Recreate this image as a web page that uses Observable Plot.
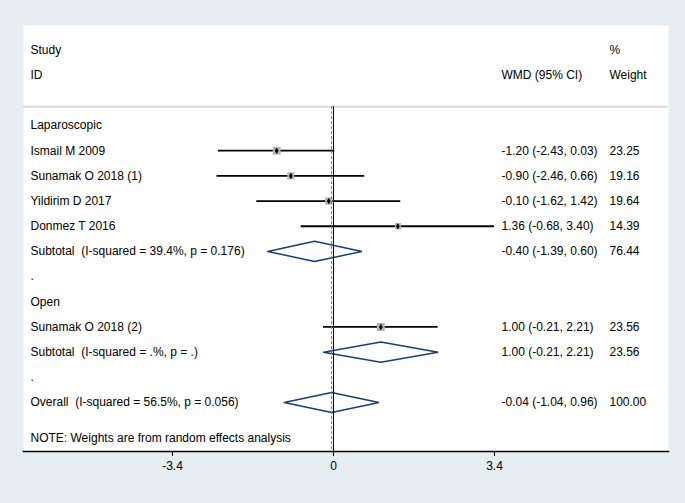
<!DOCTYPE html>
<html>
<head>
<meta charset="utf-8">
<script src="https://cdn.jsdelivr.net/npm/d3@7"></script>
<script src="https://cdn.jsdelivr.net/npm/@observablehq/plot@0.6"></script>
<style>
  html, body { margin: 0; padding: 0; background: #e5edf0; }
  svg text { white-space: pre; }
</style>
</head>
<body>
<div id="chart"></div>
<script>
// ---- data ----
const groups = ["Laparoscopic", "Open"];
const studies = ["Ismail M 2009", "Sunamak O 2018 (1)", "Yildirim D 2017", "Donmez T 2016", "Sunamak O 2018 (2)"];
const studyGroup = [0, 0, 0, 0, 1];
const studyEst = [-1.20, -0.90, -0.10, 1.36, 1.00];
const studyLo = [-2.43, -2.46, -1.62, -0.68, -0.21];
const studyHi = [0.03, 0.66, 1.42, 3.40, 2.21];
const studyWeight = [23.25, 19.16, 19.64, 14.39, 23.56];

const pooledLabels = ["Subtotal  (I-squared = 39.4%, p = 0.176)", "Subtotal  (I-squared = .%, p = .)", "Overall  (I-squared = 56.5%, p = 0.056)"];
const pooledEst = [-0.40, 1.00, -0.04];
const pooledLo = [-1.39, -0.21, -1.04];
const pooledHi = [0.60, 2.21, 0.96];
const pooledWeight = [76.44, 23.56, 100.00];

const headerTop = ["Study", "%"];
const headerBottom = ["ID", "WMD (95% CI)", "Weight"];
const noteText = "NOTE: Weights are from random effects analysis";
const xTicks = [-3.4, 0, 3.4];

// ---- layout (row order) ----
const f2 = v => v.toFixed(2);
const studyRows = [], pooledRows = [], labelRows = [];
let r = 0;
groups.forEach((g, gi) => {
  labelRows.push({row: r++, label: g});
  studies.forEach((s, i) => {
    if (studyGroup[i] === gi) {
      studyRows.push({row: r, label: s, est: studyEst[i], lo: studyLo[i], hi: studyHi[i], w: studyWeight[i]});
      labelRows.push({row: r++, label: s, ci: `${f2(studyEst[i])} (${f2(studyLo[i])}, ${f2(studyHi[i])})`, wt: f2(studyWeight[i])});
    }
  });
  pooledRows.push({row: r, est: pooledEst[gi], lo: pooledLo[gi], hi: pooledHi[gi]});
  labelRows.push({row: r++, label: pooledLabels[gi], ci: `${f2(pooledEst[gi])} (${f2(pooledLo[gi])}, ${f2(pooledHi[gi])})`, wt: f2(pooledWeight[gi])});
  labelRows.push({row: r++, label: "."});
});
pooledRows.push({row: r, est: pooledEst[2], lo: pooledLo[2], hi: pooledHi[2]});
labelRows.push({row: r++, label: pooledLabels[2], ci: `${f2(pooledEst[2])} (${f2(pooledLo[2])}, ${f2(pooledHi[2])})`, wt: f2(pooledWeight[2])});

const H = 0.4; // diamond half-height in rows
const diamondPts = pooledRows.flatMap((d, k) => [
  {k, x: d.lo, y: d.row}, {k, x: d.est, y: d.row - H}, {k, x: d.hi, y: d.row},
  {k, x: d.est, y: d.row + H}, {k, x: d.lo, y: d.row}
]);

const SEP = -0.75, AXIS = 12.945, NOTE = 12.43;
const overall = pooledEst[2];

const chart = Plot.plot({
  width: 685,
  height: 503,
  marginTop: 25,
  marginBottom: 52,
  marginLeft: 23,
  marginRight: 17,
  style: {background: "#e5edf0", fontFamily: "'Liberation Sans', Arial, sans-serif", fontSize: "12px", color: "#000"},
  x: {domain: [-6.546, 7.075], axis: null},
  y: {domain: [-3, 11], range: [49.5, 402], axis: null},
  r: {type: "sqrt", domain: [0, 25], range: [0, 4.6]},
  marks: [
    Plot.frame({fill: "white", stroke: null}),
    Plot.ruleY([SEP], {stroke: "#d6dadb", strokeWidth: 2}),
    // header
    Plot.text([headerTop[0]], {frameAnchor: "left", y: () => -3, dx: 7, textAnchor: "start"}),
    Plot.text([headerTop[1]], {frameAnchor: "left", y: () => -3, dx: 586, textAnchor: "start"}),
    Plot.text([headerBottom[0]], {frameAnchor: "left", y: () => -2, dx: 7, textAnchor: "start"}),
    Plot.text([headerBottom[1]], {frameAnchor: "left", y: () => -2, dx: 478, textAnchor: "start"}),
    Plot.text([headerBottom[2]], {frameAnchor: "left", y: () => -2, dx: 586, textAnchor: "start"}),
    // row labels
    Plot.text(labelRows, {frameAnchor: "left", y: "row", text: "label", dx: 7, textAnchor: "start"}),
    Plot.text(labelRows.filter(d => d.ci), {frameAnchor: "left", y: "row", text: "ci", dx: 478, textAnchor: "start"}),
    Plot.text(labelRows.filter(d => d.wt), {frameAnchor: "left", y: "row", text: "wt", dx: 586, textAnchor: "start"}),
    Plot.text([noteText], {frameAnchor: "left", y: () => NOTE, dx: 7, textAnchor: "start"}),
    // confidence intervals
    Plot.ruleY(studyRows, {y: "row", x1: "lo", x2: "hi", stroke: "#000", strokeWidth: 1.8}),
    Plot.dot(studyRows, {x: "est", y: "row", r: "w", symbol: "square", fill: "#b4b4b4", stroke: null}),
    Plot.dot(studyRows, {x: "est", y: "row", r: 2, symbol: "diamond", fill: "#000", stroke: null}),
    // diamonds
    Plot.line(diamondPts, {x: "x", y: "y", z: "k", stroke: "#1a3f73", strokeWidth: 1.5, strokeLinejoin: "miter", curve: "linear"}),
    // reference lines
    Plot.ruleX([0], {y1: SEP, y2: AXIS, stroke: "#000", strokeWidth: 1}),
    Plot.ruleX([overall], {y1: SEP, y2: AXIS, stroke: "#d0505a", strokeWidth: 1, strokeDasharray: "3,2"}),
    // axis
    Plot.frame({anchor: "bottom", stroke: "#000", strokeWidth: 1.5}),
    Plot.axisX({ticks: xTicks, tickSize: 5, tickPadding: 5, tickFormat: d => String(d), anchor: "bottom", fontSize: 12})
  ]
});
document.getElementById("chart").appendChild(chart);
</script>
</body>
</html>
